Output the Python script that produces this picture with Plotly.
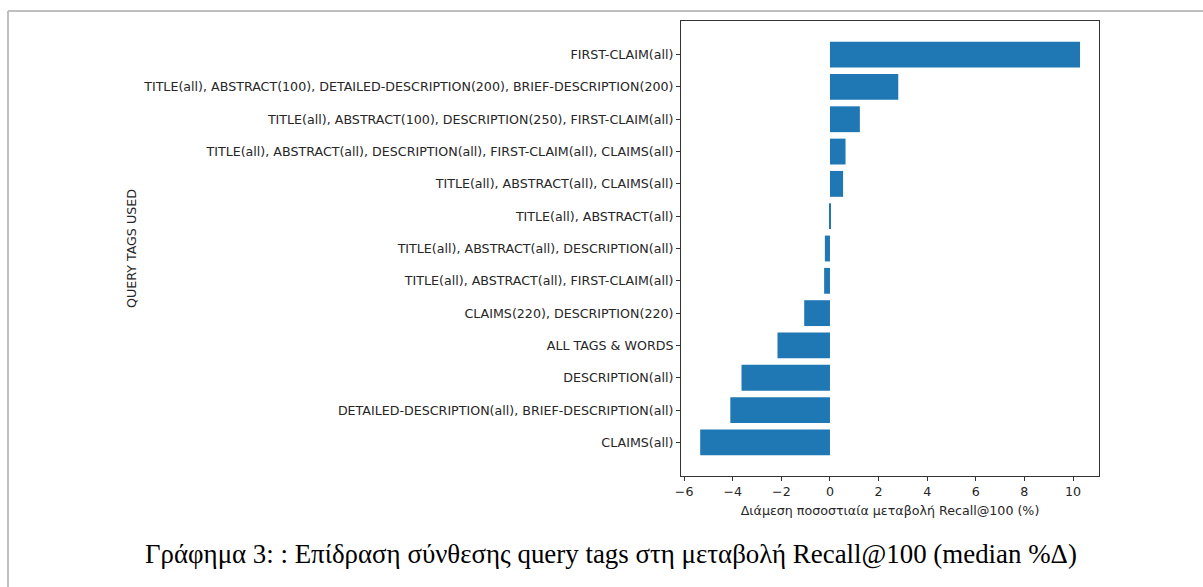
import plotly.graph_objects as go

# Query tag combinations (top to bottom as displayed)
categories = [
    "FIRST-CLAIM(all)",
    "TITLE(all), ABSTRACT(100), DETAILED-DESCRIPTION(200), BRIEF-DESCRIPTION(200)",
    "TITLE(all), ABSTRACT(100), DESCRIPTION(250), FIRST-CLAIM(all)",
    "TITLE(all), ABSTRACT(all), DESCRIPTION(all), FIRST-CLAIM(all), CLAIMS(all)",
    "TITLE(all), ABSTRACT(all), CLAIMS(all)",
    "TITLE(all), ABSTRACT(all)",
    "TITLE(all), ABSTRACT(all), DESCRIPTION(all)",
    "TITLE(all), ABSTRACT(all), FIRST-CLAIM(all)",
    "CLAIMS(220), DESCRIPTION(220)",
    "ALL TAGS & WORDS",
    "DESCRIPTION(all)",
    "DETAILED-DESCRIPTION(all), BRIEF-DESCRIPTION(all)",
    "CLAIMS(all)",
]
# Median % change of Recall@100
median_delta = [10.29, 2.81, 1.23, 0.64, 0.54, 0.005, -0.21, -0.24,
                -1.06, -2.16, -3.64, -4.10, -5.34]

x_ticks = [-6, -4, -2, 0, 2, 4, 6, 8, 10]

W, H = 1203, 587
ML, MR, MT, MB = 681, 104, 21, 111
pw, ph = W - ML - MR, H - MT - MB

def px(x):
    return (x - ML) / pw

def py(y):
    return 1 - (y - MT) / ph

n = len(categories)
ypos = list(range(n - 1, -1, -1))

fig = go.Figure(go.Bar(
    x=median_delta,
    y=ypos,
    orientation="h",
    width=0.8,
    marker=dict(color="#1f77b4", line=dict(width=0)),
))

axis_col = "#333333"
fs = 12.65
fig.update_layout(
    width=W, height=H,
    margin=dict(l=ML, r=MR, t=MT, b=MB),
    paper_bgcolor="white",
    plot_bgcolor="white",
    showlegend=False,
    font=dict(family="DejaVu Sans", size=fs, color="#262626"),
    xaxis=dict(
        range=[-6.13, 11.07],
        tickvals=x_ticks,
        ticks="outside", ticklen=4, tickcolor=axis_col, tickwidth=1,
        tickfont=dict(size=fs),
        showgrid=False, zeroline=False,
        showline=True, linecolor=axis_col, linewidth=1, mirror=True,
        title=dict(text="Διάμεση ποσοστιαία μεταβολή Recall@100 (%)",
                   font=dict(size=fs), standoff=7),
    ),
    yaxis=dict(
        range=[-1.04, n - 1 + 1.04],
        tickvals=ypos,
        ticktext=categories,
        ticks="outside", ticklen=4, tickcolor=axis_col, tickwidth=1,
        tickfont=dict(size=fs),
        showgrid=False, zeroline=False,
        showline=True, linecolor=axis_col, linewidth=1, mirror=True,
    ),
    shapes=[
        # frame around the figure (top and left edges)
        dict(type="line", xref="paper", yref="paper",
             x0=px(8), x1=px(W + 5), y0=py(11), y1=py(11),
             line=dict(color="#bfbfbf", width=2)),
        dict(type="line", xref="paper", yref="paper",
             x0=px(8), x1=px(8), y0=py(11), y1=py(H + 5),
             line=dict(color="#bfbfbf", width=2)),
    ],
    annotations=[
        dict(text="QUERY TAGS USED", xref="paper", yref="paper",
             x=px(131), y=py(249), textangle=-90, showarrow=False,
             font=dict(size=fs, color="#262626"),
             xanchor="center", yanchor="middle"),
        dict(text="Γράφημα 3: : Επίδραση σύνθεσης query tags στη μεταβολή Recall@100 (median %Δ)",
             xref="paper", yref="paper", x=px(611), y=py(554),
             showarrow=False, xanchor="center", yanchor="middle",
             font=dict(family="Liberation Serif", size=26.9, color="#000000")),
    ],
)

fig.write_html("out.html")
